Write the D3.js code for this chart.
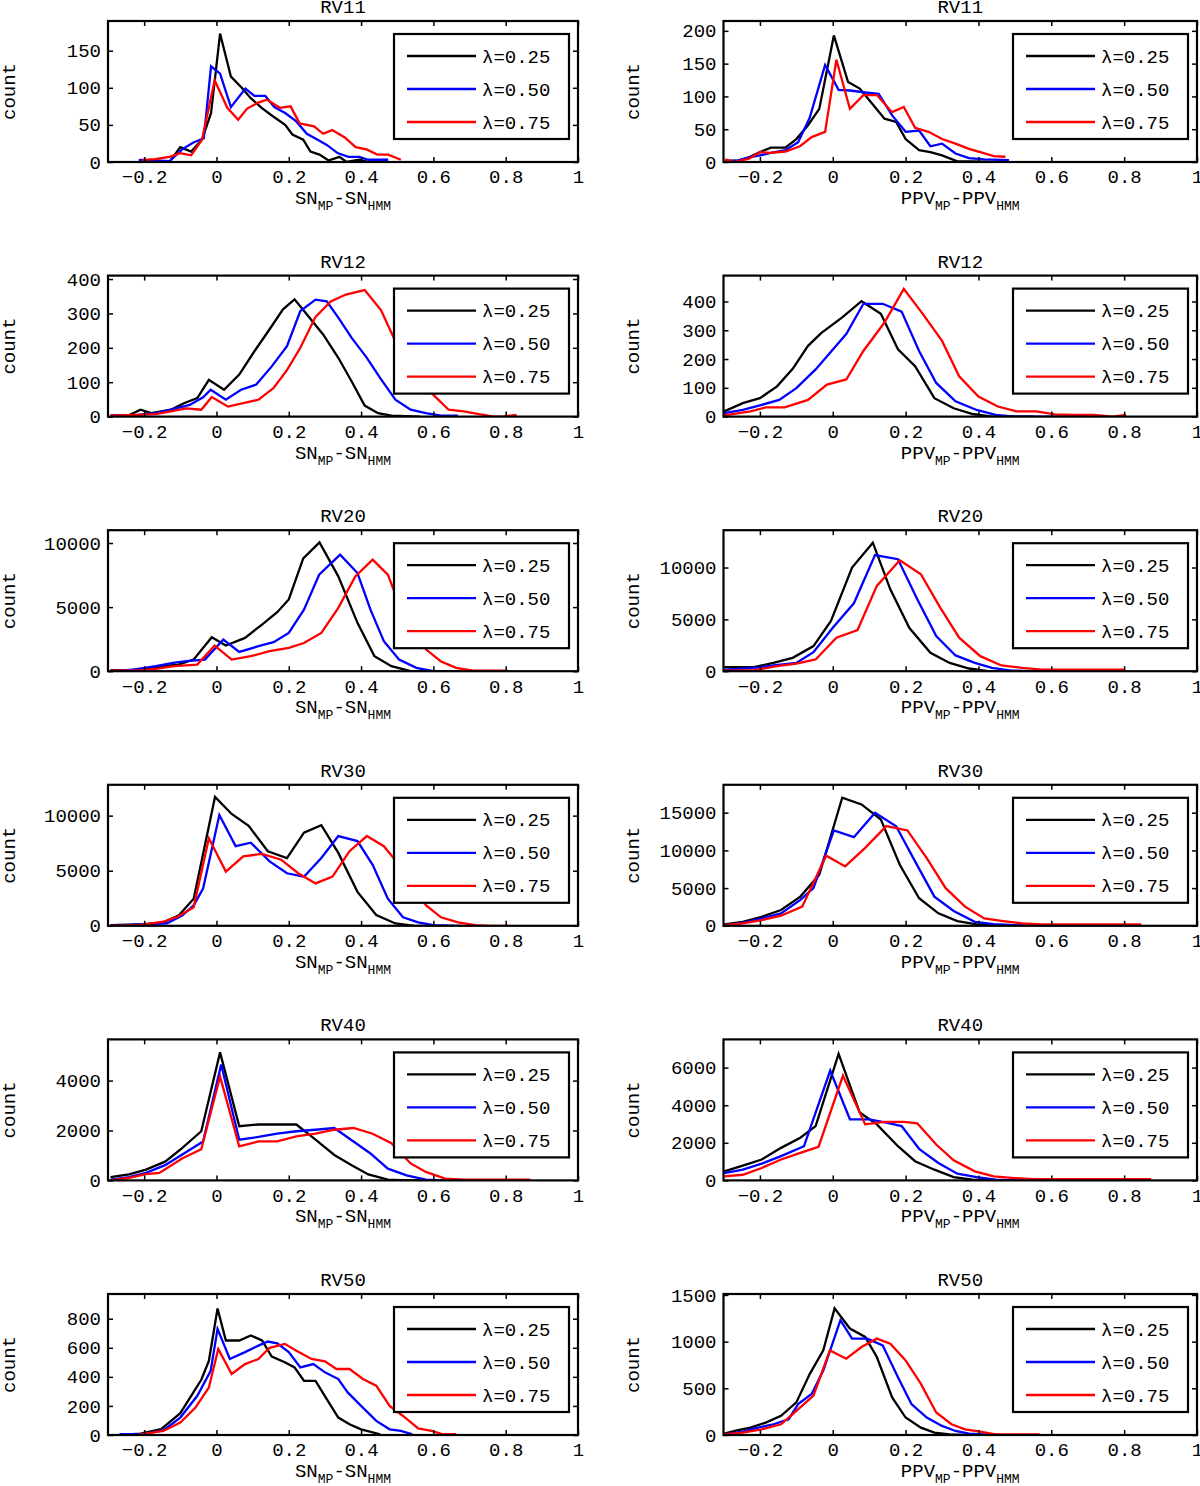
<!DOCTYPE html>
<html><head><meta charset="utf-8">
<script src="https://cdn.jsdelivr.net/npm/d3@7"></script>
<style>
body{margin:0;background:#fff;}
svg{display:block;}
text{font-family:"Liberation Mono","DejaVu Sans Mono",monospace;fill:#000;}
</style>
</head><body>
<svg id="chart" width="1200" height="1486"></svg>
<script>
// ---------- data ----------
const xDomain = [-0.3, 1];
const xTicks = [-0.2, 0, 0.2, 0.4, 0.6, 0.8, 1];
const panelTitles = ["RV11", "RV12", "RV20", "RV30", "RV40", "RV50"];
const legendLabels = ["λ=0.25", "λ=0.50", "λ=0.75"];
const yMaxSN  = [190, 410, 11000, 12800, 5650, 970];
const yMaxPPV = [215, 490, 13600, 18700, 7500, 1510];
const yTicksSN  = [[0,50,100,150],[0,100,200,300,400],[0,5000,10000],[0,5000,10000],[0,2000,4000],[0,200,400,600,800]];
const yTicksPPV = [[0,50,100,150,200],[0,100,200,300,400],[0,5000,10000],[0,5000,10000,15000],[0,2000,4000,6000],[0,500,1000,1500]];

// RV11
const s11_025 = [[-0.21,0],[-0.17,0],[-0.13,0],[-0.1,20],[-0.07,14],[-0.04,30],[-0.015,66],[0.01,173],[0.04,115],[0.07,100],[0.095,86],[0.125,73],[0.155,62],[0.19,50],[0.21,37],[0.24,30],[0.26,14],[0.285,10],[0.31,2],[0.34,7],[0.36,0],[0.395,3],[0.42,0]];
const s11_050 = [[-0.215,3],[-0.17,2],[-0.13,1],[-0.095,17],[-0.065,26],[-0.035,32],[-0.015,129],[0.01,119],[0.04,74],[0.08,99],[0.105,89],[0.135,89],[0.16,74],[0.19,66],[0.22,55],[0.25,38],[0.28,30],[0.305,23],[0.335,12],[0.365,7],[0.395,7],[0.42,3],[0.475,3]];
const s11_075 = [[-0.205,3],[-0.17,4],[-0.13,7],[-0.1,12],[-0.07,9],[-0.04,30],[-0.005,110],[0.03,73],[0.06,57],[0.085,72],[0.115,80],[0.14,84],[0.175,73],[0.205,75],[0.23,52],[0.27,48],[0.295,38],[0.32,43],[0.355,33],[0.385,20],[0.415,17],[0.445,10],[0.475,10],[0.51,3]];
const p11_025 = [[-0.295,2],[-0.26,2],[-0.23,7],[-0.2,15],[-0.17,22],[-0.13,22],[-0.1,35],[-0.068,56],[-0.037,81],[0.003,193],[0.042,122],[0.074,112],[0.105,91],[0.142,66],[0.174,61],[0.2,35],[0.237,18],[0.268,15],[0.3,10],[0.342,1],[0.379,1],[0.45,0]];
const p11_050 = [[-0.295,1],[-0.26,2],[-0.23,7],[-0.2,10],[-0.17,14],[-0.13,18],[-0.095,30],[-0.063,68],[-0.021,148],[0.016,110],[0.047,109],[0.09,106],[0.126,104],[0.163,71],[0.2,46],[0.237,48],[0.268,24],[0.3,28],[0.337,13],[0.374,6],[0.416,4],[0.484,3]];
const p11_075 = [[-0.295,4],[-0.27,0],[-0.23,5],[-0.2,15],[-0.17,14],[-0.13,16],[-0.09,24],[-0.058,38],[-0.021,46],[0.01,156],[0.047,81],[0.084,102],[0.121,102],[0.163,76],[0.195,84],[0.226,52],[0.263,46],[0.3,35],[0.337,28],[0.374,20],[0.405,15],[0.442,9],[0.474,8]];
// RV12
const s12_025 = [[-0.293,3],[-0.24,5],[-0.21,20],[-0.18,10],[-0.126,20],[-0.09,39],[-0.053,54],[-0.021,107],[0.021,78],[0.063,122],[0.105,190],[0.147,254],[0.184,312],[0.216,341],[0.253,293],[0.295,239],[0.337,171],[0.374,102],[0.41,32],[0.447,10],[0.484,3],[0.563,0]];
const s12_050 = [[-0.293,3],[-0.22,5],[-0.168,10],[-0.126,20],[-0.074,34],[-0.037,56],[-0.016,78],[0.026,49],[0.068,78],[0.11,93],[0.153,146],[0.195,205],[0.232,307],[0.274,340],[0.305,335],[0.337,288],[0.374,229],[0.416,171],[0.453,112],[0.495,49],[0.537,20],[0.579,10],[0.621,3],[0.668,3]];
const s12_075 = [[-0.293,3],[-0.22,5],[-0.168,7],[-0.126,15],[-0.084,24],[-0.042,20],[-0.013,57],[0.032,29],[0.074,39],[0.116,49],[0.158,83],[0.195,135],[0.232,200],[0.274,290],[0.316,335],[0.358,355],[0.41,368],[0.455,310],[0.49,230],[0.53,150],[0.6,63],[0.642,20],[0.684,15],[0.726,7],[0.768,0],[0.79,0],[0.83,5]];
const p12_025 = [[-0.298,18],[-0.247,47],[-0.2,64],[-0.153,105],[-0.11,166],[-0.068,246],[-0.032,290],[0.026,345],[0.079,401],[0.132,357],[0.179,234],[0.226,175],[0.279,64],[0.332,29],[0.384,9],[0.437,0],[0.55,0]];
const p12_050 = [[-0.298,12],[-0.247,23],[-0.195,41],[-0.147,58],[-0.1,99],[-0.047,164],[0.005,240],[0.037,287],[0.084,392],[0.137,392],[0.189,365],[0.237,228],[0.284,117],[0.337,53],[0.395,23],[0.447,6],[0.5,0],[0.65,0]];
const p12_075 = [[-0.298,4],[-0.226,18],[-0.184,32],[-0.132,32],[-0.068,58],[-0.016,111],[0.037,129],[0.084,228],[0.142,327],[0.195,444],[0.247,357],[0.3,263],[0.347,140],[0.4,70],[0.453,35],[0.505,18],[0.558,18],[0.61,8],[0.663,6],[0.716,6],[0.768,0],[0.805,6]];
// RV20
const s20_025 = [[-0.293,78],[-0.24,80],[-0.19,180],[-0.147,390],[-0.105,520],[-0.063,910],[-0.013,2650],[0.026,2000],[0.079,2600],[0.126,3640],[0.168,4600],[0.2,5600],[0.24,8800],[0.285,10050],[0.337,7400],[0.39,3770],[0.437,1170],[0.484,390],[0.537,0],[0.58,0]];
const s20_050 = [[-0.293,0],[-0.23,130],[-0.168,390],[-0.12,650],[-0.084,780],[-0.032,910],[0.019,2470],[0.063,1500],[0.116,1950],[0.158,2260],[0.2,2990],[0.242,4800],[0.284,7530],[0.342,9090],[0.39,7660],[0.426,4800],[0.463,2340],[0.505,910],[0.553,260],[0.6,0],[0.674,0]];
const s20_075 = [[-0.293,52],[-0.22,50],[-0.168,180],[-0.116,390],[-0.053,520],[-0.005,2000],[0.042,910],[0.095,1170],[0.147,1560],[0.2,1820],[0.242,2200],[0.29,2990],[0.337,4940],[0.384,7400],[0.432,8700],[0.474,7530],[0.49,6360],[0.53,4000],[0.58,1690],[0.62,780],[0.663,260],[0.71,50],[0.758,50],[0.805,50]];
const p20_025 = [[-0.298,390],[-0.216,390],[-0.163,800],[-0.11,1290],[-0.053,2420],[-0.005,4840],[0.053,10000],[0.11,12400],[0.158,7900],[0.21,4190],[0.268,1770],[0.321,800],[0.374,260],[0.426,0],[0.5,0]];
const p20_050 = [[-0.298,160],[-0.216,320],[-0.163,550],[-0.1,800],[-0.053,1840],[0,4190],[0.058,6550],[0.116,11200],[0.179,10800],[0.232,6940],[0.284,3390],[0.337,1520],[0.39,800],[0.437,320],[0.49,65],[0.542,0],[0.6,0]];
const p20_075 = [[-0.298,65],[-0.216,100],[-0.153,480],[-0.1,740],[-0.047,1130],[0.01,3230],[0.068,3970],[0.121,8230],[0.184,10700],[0.242,9350],[0.295,6130],[0.347,3230],[0.405,1450],[0.463,550],[0.52,320],[0.574,160],[0.626,160],[0.7,160],[0.8,160]];
// RV30
const s30_025 = [[-0.293,60],[-0.2,150],[-0.147,310],[-0.105,920],[-0.063,2460],[-0.004,11700],[0.042,10150],[0.089,9080],[0.142,6770],[0.195,6150],[0.242,8460],[0.29,9140],[0.337,6620],[0.39,3080],[0.442,980],[0.495,215],[0.547,0],[0.6,0]];
const s30_050 = [[-0.293,0],[-0.137,215],[-0.095,920],[-0.063,1850],[-0.037,3380],[0.008,10060],[0.053,7230],[0.095,7540],[0.147,5850],[0.195,4770],[0.242,4460],[0.29,6150],[0.337,8150],[0.39,7690],[0.432,5540],[0.474,2460],[0.516,770],[0.558,310],[0.6,60],[0.68,0]];
const s30_075 = [[-0.293,0],[-0.21,60],[-0.147,370],[-0.105,860],[-0.063,1690],[-0.021,7940],[0.026,4920],[0.074,6310],[0.126,6520],[0.179,6000],[0.226,4770],[0.274,3850],[0.321,4460],[0.368,6770],[0.416,8150],[0.463,7230],[0.49,6150],[0.53,4000],[0.58,1850],[0.621,770],[0.668,310],[0.716,60],[0.76,0],[0.81,0]];
const p30_025 = [[-0.298,180],[-0.247,530],[-0.195,1200],[-0.142,2090],[-0.089,3870],[-0.037,6770],[0.026,17000],[0.079,16100],[0.132,14100],[0.184,8100],[0.237,3650],[0.29,1650],[0.342,620],[0.395,180],[0.447,0],[0.55,0]];
const p30_050 = [[-0.298,90],[-0.247,400],[-0.195,980],[-0.142,1650],[-0.089,3430],[-0.053,5000],[0.003,12650],[0.058,11750],[0.116,15000],[0.174,13200],[0.226,8550],[0.279,3870],[0.332,1960],[0.39,530],[0.442,220],[0.5,90],[0.553,0],[0.65,0]];
const p30_075 = [[-0.298,90],[-0.247,310],[-0.195,760],[-0.142,1340],[-0.084,2540],[-0.018,9300],[0.034,7880],[0.089,10330],[0.147,13220],[0.205,12650],[0.258,8990],[0.31,4990],[0.363,2540],[0.416,980],[0.468,620],[0.521,310],[0.574,180],[0.7,180],[0.847,180]];
// RV40
const s40_025 = [[-0.293,135],[-0.242,240],[-0.195,430],[-0.142,750],[-0.095,1290],[-0.042,1970],[0.01,5130],[0.063,2170],[0.116,2240],[0.168,2240],[0.221,2240],[0.274,1630],[0.326,1020],[0.374,610],[0.42,240],[0.474,30],[0.526,0],[0.6,0]];
const s40_050 = [[-0.293,30],[-0.242,135],[-0.195,300],[-0.142,610],[-0.09,1080],[-0.037,1560],[0.013,4640],[0.063,1630],[0.116,1740],[0.168,1870],[0.221,1970],[0.274,2030],[0.326,2100],[0.379,1560],[0.426,1080],[0.474,470],[0.526,200],[0.579,30],[0.62,0],[0.66,0]];
const s40_075 = [[-0.293,0],[-0.242,100],[-0.195,250],[-0.158,300],[-0.095,880],[-0.042,1250],[0.01,4160],[0.063,1360],[0.116,1560],[0.168,1560],[0.221,1760],[0.274,1870],[0.326,2030],[0.379,2100],[0.432,1870],[0.484,1490],[0.537,680],[0.579,340],[0.632,70],[0.684,30],[0.78,30],[0.868,30]];
const p40_025 = [[-0.298,480],[-0.247,790],[-0.195,1110],[-0.142,1730],[-0.089,2270],[-0.047,2890],[0.016,6730],[0.074,3610],[0.121,2980],[0.179,1820],[0.226,1020],[0.279,570],[0.332,180],[0.384,35],[0.44,0],[0.5,0]];
const p40_050 = [[-0.298,390],[-0.247,570],[-0.195,890],[-0.142,1290],[-0.079,1820],[-0.007,5840],[0.047,3250],[0.1,3250],[0.147,3070],[0.189,2890],[0.237,1680],[0.29,930],[0.342,360],[0.395,180],[0.447,35],[0.5,0],[0.55,0]];
const p40_075 = [[-0.298,210],[-0.247,300],[-0.195,660],[-0.142,1110],[-0.089,1460],[-0.039,1790],[0.028,5570],[0.089,2980],[0.142,3110],[0.195,3110],[0.232,3040],[0.284,1910],[0.332,1070],[0.39,480],[0.442,210],[0.5,125],[0.553,70],[0.7,70],[0.874,70]];
// RV50
const s50_025 = [[-0.268,0],[-0.21,10],[-0.153,40],[-0.1,150],[-0.042,380],[-0.021,510],[0.003,870],[0.026,650],[0.063,650],[0.095,685],[0.126,650],[0.153,540],[0.189,500],[0.216,465],[0.242,373],[0.274,373],[0.305,247],[0.337,120],[0.368,74],[0.4,39],[0.453,5]];
const s50_050 = [[-0.268,5],[-0.21,5],[-0.147,32],[-0.1,120],[-0.053,270],[-0.016,442],[0.003,730],[0.037,523],[0.079,570],[0.116,615],[0.142,643],[0.168,631],[0.2,570],[0.232,465],[0.268,488],[0.3,431],[0.337,385],[0.363,293],[0.4,200],[0.442,97],[0.479,39],[0.51,28],[0.542,5]];
const s50_075 = [[-0.21,5],[-0.147,28],[-0.1,85],[-0.058,189],[-0.021,327],[0.005,592],[0.042,420],[0.079,488],[0.116,523],[0.147,600],[0.189,627],[0.221,580],[0.263,523],[0.3,507],[0.332,454],[0.368,454],[0.405,385],[0.442,339],[0.479,200],[0.516,131],[0.558,46],[0.595,28],[0.626,5],[0.663,5]];
const p50_025 = [[-0.298,14],[-0.263,50],[-0.226,79],[-0.184,133],[-0.142,205],[-0.1,349],[-0.063,655],[-0.026,906],[0.005,1356],[0.047,1140],[0.089,1050],[0.121,835],[0.163,403],[0.2,187],[0.242,79],[0.279,25],[0.321,7],[0.363,0]];
const p50_050 = [[-0.298,7],[-0.247,36],[-0.205,79],[-0.163,115],[-0.121,169],[-0.095,331],[-0.058,439],[-0.026,690],[0.021,1230],[0.053,1032],[0.095,1032],[0.137,960],[0.179,619],[0.216,331],[0.258,187],[0.3,97],[0.337,43],[0.374,14],[0.416,7],[0.453,0]];
const p50_075 = [[-0.298,7],[-0.247,25],[-0.195,61],[-0.142,115],[-0.1,259],[-0.053,421],[-0.008,906],[0.037,817],[0.079,942],[0.121,1032],[0.158,978],[0.2,799],[0.242,547],[0.284,241],[0.326,115],[0.363,61],[0.405,36],[0.447,7],[0.495,7],[0.568,7]];

const seriesSN  = [[s11_025,s11_050,s11_075],[s12_025,s12_050,s12_075],[s20_025,s20_050,s20_075],[s30_025,s30_050,s30_075],[s40_025,s40_050,s40_075],[s50_025,s50_050,s50_075]];
const seriesPPV = [[p11_025,p11_050,p11_075],[p12_025,p12_050,p12_075],[p20_025,p20_050,p20_075],[p30_025,p30_050,p30_075],[p40_025,p40_050,p40_075],[p50_025,p50_050,p50_075]];

// ---------- styles / layout ----------
const lineColors = ["#000000", "#0000ff", "#ff0000"];
const FONT = 19, SUB = 13;
const cols = [
  {x0: 108, x1: 578, ylabX: 9, metric: "SN", yMax: yMaxSN, yTicks: yTicksSN, series: seriesSN},
  {x0: 723.5, x1: 1197, ylabX: 633, metric: "PPV", yMax: yMaxPPV, yTicks: yTicksPPV, series: seriesPPV}
];
const rowTop = i => 21 + i * 254.6;
const panelH = 141;

const svg = d3.select("#chart");
let clipId = 0;

cols.forEach(col => {
  panelTitles.forEach((title, r) => {
    const top = rowTop(r);
    const w = col.x1 - col.x0;
    const x = d3.scaleLinear().domain(xDomain).range([0, w]);
    const y = d3.scaleLinear().domain([0, col.yMax[r]]).range([panelH, 0]);
    const g = svg.append("g").attr("transform", `translate(${col.x0},${top})`);

    const cid = "clip" + (clipId++);
    g.append("clipPath").attr("id", cid).append("rect").attr("width", w).attr("height", panelH);

    // lines
    const line = d3.line().x(d => x(d[0])).y(d => y(d[1]));
    const lg = g.append("g").attr("clip-path", `url(#${cid})`);
    col.series[r].forEach((s, k) => {
      lg.append("path").datum(s).attr("d", line)
        .attr("fill", "none").attr("stroke", lineColors[k])
        .attr("stroke-width", 2.3).attr("stroke-linejoin", "miter");
    });

    // axes
    const xfmt = d => d === 0 ? "0" : d === 1 ? "1" : d3.format(".1f")(d);
    const axB = g.append("g").attr("transform", `translate(0,${panelH})`)
      .call(d3.axisBottom(x).tickValues(xTicks).tickSize(-5).tickSizeOuter(0).tickPadding(8).tickFormat(xfmt));
    const axT = g.append("g")
      .call(d3.axisTop(x).tickValues(xTicks).tickSize(-5).tickSizeOuter(0).tickFormat(""));
    const axL = g.append("g")
      .call(d3.axisLeft(y).tickValues(col.yTicks[r]).tickSize(-5).tickSizeOuter(0).tickPadding(7).tickFormat(d3.format("d")));
    const axR = g.append("g").attr("transform", `translate(${w},0)`)
      .call(d3.axisRight(y).tickValues(col.yTicks[r]).tickSize(-5).tickSizeOuter(0).tickFormat(""));
    [axB, axT, axL, axR].forEach(a => {
      a.select(".domain").remove();
      a.attr("font-family", null).attr("font-size", null);
      a.selectAll("line").attr("stroke", "#000").attr("stroke-width", 1.5);
      a.selectAll("text").style("font-size", FONT + "px").attr("fill", "#000");
    });

    // frame
    g.append("rect").attr("width", w).attr("height", panelH)
      .attr("fill", "none").attr("stroke", "#000").attr("stroke-width", 2.2);

    // title
    g.append("text").attr("x", w / 2).attr("y", -8).attr("text-anchor", "middle")
      .style("font-size", FONT + "px").text(title);

    // x label with subscripts
    const xl = g.append("text").attr("x", w / 2).attr("y", panelH + 42)
      .attr("text-anchor", "middle").style("font-size", FONT + "px");
    xl.append("tspan").text(col.metric);
    xl.append("tspan").attr("dy", 6).style("font-size", SUB + "px").text("MP");
    xl.append("tspan").attr("dy", -6).text("-" + col.metric);
    xl.append("tspan").attr("dy", 6).style("font-size", SUB + "px").text("HMM");

    // y label
    svg.append("text")
      .attr("transform", `translate(${col.ylabX + 6},${top + panelH / 2}) rotate(-90)`)
      .attr("text-anchor", "middle").style("font-size", FONT + "px").text("count");

    // legend
    const legW = 175, legH = 105;
    const lgX = w - 9 - legW, lgY = 13;
    const leg = g.append("g").attr("transform", `translate(${lgX},${lgY})`);
    leg.append("rect").attr("width", legW).attr("height", legH)
      .attr("fill", "#fff").attr("stroke", "#000").attr("stroke-width", 2.2);
    legendLabels.forEach((lab, k) => {
      const ly = 22 + k * 33;
      leg.append("line").attr("x1", 13).attr("x2", 82).attr("y1", ly).attr("y2", ly)
        .attr("stroke", lineColors[k]).attr("stroke-width", 2.3);
      leg.append("text").attr("x", 88).attr("y", ly).attr("dy", "0.35em")
        .style("font-size", FONT + "px").text(lab);
    });
  });
});
</script>
</body></html>
